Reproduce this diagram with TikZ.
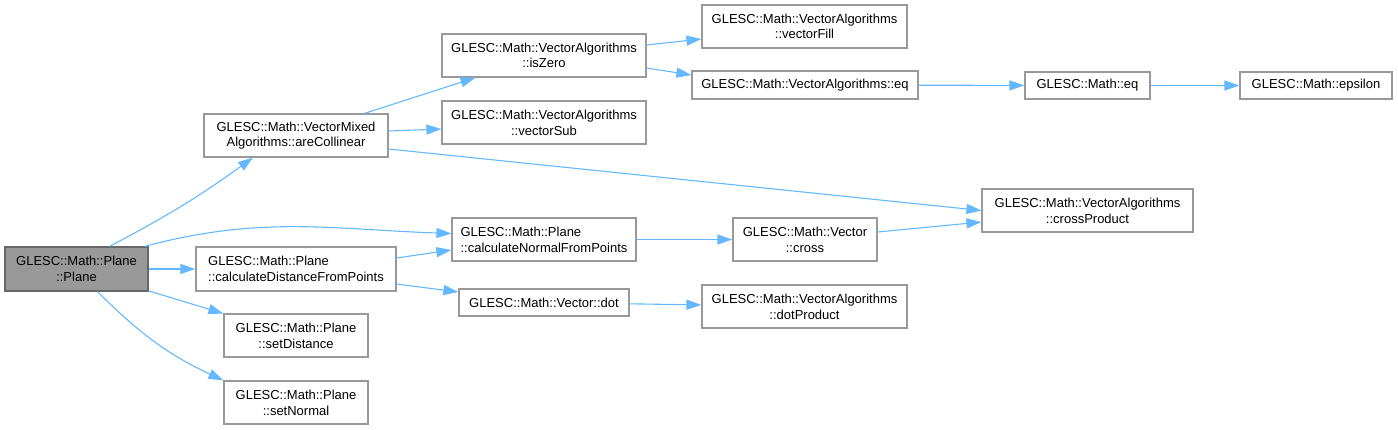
\documentclass[tikz,border=0pt]{standalone}
\usepackage{fontspec}
\setmainfont{Liberation Sans}
\usetikzlibrary{arrows.meta}
\definecolor{EdgeBlue}{HTML}{63B8FF}
\definecolor{BoxGray}{HTML}{999999}
\definecolor{RootGray}{HTML}{666666}

\begin{document}
\begin{tikzpicture}[x=1pt,y=-1pt,
  fn/.style={draw=BoxGray,fill=white,line width=1.2pt,inner sep=0pt,align=center,font=\fontsize{13}{15.7}\selectfont},
  fnleft/.style={fn,align=left},
  root/.style={fn,draw=RootGray,fill=BoxGray},
  arrow/.style={-{Triangle[length=15pt,width=10pt]},line width=1.1pt,draw=EdgeBlue}
]
\useasboundingbox (0,0) rectangle (1398,429);
% caller and first level
\node[root,minimum width=143pt,minimum height=44pt] (plane) at (76.5,269) {GLESC::Math::Plane\\::Plane};
\node[fn,minimum width=184pt,minimum height=43pt] (collinear) at (296,135.5) {GLESC::Math::VectorMixed\\Algorithms::areCollinear};
\node[fnleft,minimum width=200pt,minimum height=44pt] (distance) at (296,269) {GLESC::Math::Plane\\::calculateDistanceFromPoints};
\node[fn,minimum width=144pt,minimum height=43pt] (setdist) at (296,335.5) {GLESC::Math::Plane\\::setDistance};
\node[fn,minimum width=144pt,minimum height=43pt] (setnormal) at (296,402.5) {GLESC::Math::Plane\\::setNormal};
% second level
\node[fn,minimum width=204pt,minimum height=43pt] (iszero) at (544,55.5) {GLESC::Math::VectorAlgorithms\\::isZero};
\node[fn,minimum width=204pt,minimum height=43pt] (vecsub) at (544,122.5) {GLESC::Math::VectorAlgorithms\\::vectorSub};
\node[fnleft,minimum width=184pt,minimum height=43pt] (normal) at (544,239.5) {GLESC::Math::Plane\\::calculateNormalFromPoints};
\node[fn,minimum width=170pt,minimum height=27pt] (dot) at (544,302.5) {GLESC::Math::Vector::dot};
% third level
\node[fn,minimum width=205pt,minimum height=43pt] (vecfill) at (804.5,26.5) {GLESC::Math::VectorAlgorithms\\::vectorFill};
\node[fn,minimum width=226pt,minimum height=28pt] (vaeq) at (805,85) {GLESC::Math::VectorAlgorithms::eq};
\node[fn,minimum width=144pt,minimum height=43pt] (cross) at (805,239.5) {GLESC::Math::Vector\\::cross};
\node[fn,minimum width=205pt,minimum height=43pt] (dotprod) at (804.5,306.5) {GLESC::Math::VectorAlgorithms\\::dotProduct};
% right side
\node[fn,minimum width=125pt,minimum height=27pt] (matheq) at (1087.5,85.5) {GLESC::Math::eq};
\node[fn,minimum width=211pt,minimum height=43pt] (crossprod) at (1087.5,210.5) {GLESC::Math::VectorAlgorithms\\::crossProduct};
\node[fn,minimum width=152pt,minimum height=27pt] (epsilon) at (1316,85.5) {GLESC::Math::epsilon};

% calls
\draw[arrow] ([xshift=33pt]plane.north) to[bend right=4] ([xshift=-43pt]collinear.south);
\draw[arrow] ([xshift=-4pt]plane.north east) to[out=15,in=178] ([yshift=6pt]normal.west);
\draw[arrow] (plane) -- (distance);
\draw[arrow] (plane) -- (setdist);
\draw[arrow] ([xshift=21pt]plane.south) to[out=-45,in=155] (setnormal.north west);
\draw[arrow] ([yshift=11pt]distance.east) -- ([yshift=-10.5pt]normal.west);
\draw[arrow] ([yshift=-15pt]distance.east) -- ([yshift=10.5pt]dot.west);
\draw[arrow] (collinear) -- (iszero);
\draw[arrow] ([yshift=4.5pt]collinear.east) -- ([yshift=-6.5pt]vecsub.west);
\draw[arrow] ([yshift=-13.5pt]collinear.east) -- (crossprod.west);
\draw[arrow] ([yshift=10.5pt]iszero.east) -- ([yshift=-12.5pt]vecfill.west);
\draw[arrow] ([yshift=-12.5pt]iszero.east) -- ([yshift=10pt]vaeq.west);
\draw[arrow] (vaeq) -- (matheq);
\draw[arrow] (matheq) -- (epsilon);
\draw[arrow] (normal) -- (cross);
\draw[arrow] ([yshift=7.5pt]cross.east) -- ([yshift=-11.5pt]crossprod.west);
\draw[arrow] (dot) -- (dotprod);
\end{tikzpicture}
\end{document}
